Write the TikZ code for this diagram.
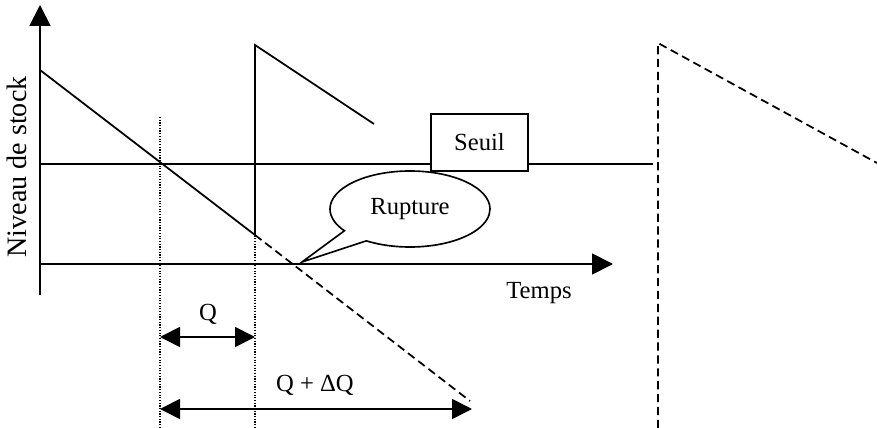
\documentclass[tikz,border=0pt]{standalone}
\usepackage{fontspec}
\setmainfont{Liberation Serif}
\usetikzlibrary{arrows.meta,shapes.callouts}

\begin{document}
\begin{tikzpicture}[x=0.03cm,y=-0.03cm,
  every node/.style={font=\fontsize{21}{25}\selectfont},
  axis/.style={line width=1.6pt,-{Triangle[length=6.3mm,width=6.3mm]}},
  stock/.style={line width=1.5pt},
  prevu/.style={line width=1.5pt,dash pattern=on 7pt off 4pt},
  niveau/.style={line width=2.4pt},
  repere/.style={line width=1pt,dash pattern=on 1pt off 1.3pt},
  duree/.style={line width=1.6pt,{Triangle[length=6mm,width=6mm]}-{Triangle[length=6mm,width=6mm]}},
  box/.style={draw,line width=1.4pt,fill=white,minimum width=2.91cm,minimum height=1.71cm},
  bulle/.style={ellipse callout,draw,line width=1.4pt,fill=white,
    minimum width=4.8cm,minimum height=2.28cm,callout pointer arc=22}]
\useasboundingbox (0,0) rectangle (877,428);
% points of the stock curve
\coordinate (ybot) at (40,295);
\coordinate (ytop) at (40,5);
\coordinate (O) at (40,264);
\coordinate (xtip) at (613,264);
\coordinate (s0) at (40,70);
\coordinate (r1) at (255,235);
\coordinate (s1) at (255,45);
\coordinate (e1) at (374,124);
\coordinate (d1) at (470,401);
\coordinate (s2) at (658,43);
\coordinate (e2) at (877,163);
\coordinate (b2) at (658,428);
\coordinate (t0) at (40,164);
\coordinate (t1) at (653,164);
\coordinate (rtip) at (302,262);
% reference lines
\coordinate (v1a) at (160,117);
\coordinate (v1b) at (160,428);
\coordinate (v2a) at (255,117);
\coordinate (v2b) at (255,428);
\draw[repere] (v1a) -- (v1b);
\draw[repere] (v2a) -- (v2b);
% axes
\draw[axis] (ybot) -- (ytop);
\draw[axis] (O) -- (xtip);
\node[rotate=90,font=\fontsize{24}{28}\selectfont] (ylab) at (17,167) {Niveau de stock};
\node (xlab) at (539,293) {Temps};
% threshold
\draw[niveau] (t0) -- (t1);
\node[box] (seuil) at (479.5,142.5) {Seuil};
% stock
\draw[stock] (s0) -- (r1) -- (s1) -- (e1);
\draw[prevu] (r1) -- (d1);
\draw[prevu] (b2) -- (s2) -- (e2);
\node[bulle,callout absolute pointer={(rtip)}] (rupt) at (410,209) {Rupture};
% durations
\coordinate (q0) at (160,337);
\coordinate (q1) at (255,337);
\coordinate (dq0) at (160,409);
\coordinate (dq1) at (472,409);
\draw[duree] (q0) -- (q1);
\draw[duree] (dq0) -- (dq1);
\node (qlab) at (208,314) {Q};
\node (dqlab) at (315,385) {Q + ΔQ};
\end{tikzpicture}
\end{document}
